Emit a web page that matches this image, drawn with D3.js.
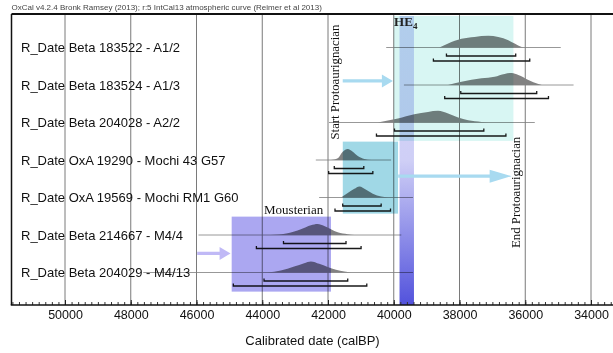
<!DOCTYPE html>
<html>
<head>
<meta charset="utf-8">
<script src="https://cdn.jsdelivr.net/npm/d3@7"></script>
<style>
  body { margin: 0; background: #fff; }
  svg { display: block; }
</style>
</head>
<body>
<script>
// rows, top to bottom
const rowLabels = [
  "R_Date Beta 183522 - A1/2",
  "R_Date Beta 183524 - A1/3",
  "R_Date Beta 204028 - A2/2",
  "R_Date OxA 19290 - Mochi 43 G57",
  "R_Date OxA 19569 - Mochi RM1 G60",
  "R_Date Beta 214667 - M4/4",
  "R_Date Beta 204029 - M4/13"
];

// thin line under each distribution (calBP, old -> young)
const rangeFrom = [40230, 39690, 41970, 42370, 42270, 45940, 47620];
const rangeTo   = [34920, 34530, 35710, 40080, 39415, 39770, 39415];

// 68.2% and 95.4% ranges
const sigma1From = [38397, 37962, 39977, 41809, 41552, 43354, 43946];
const sigma1To   = [36290, 35651, 37260, 40911, 40383, 41452, 41400];
const sigma2From = [38794, 38450, 40526, 41980, 41787, 44178, 44880];
const sigma2To   = [35863, 35294, 36588, 40636, 40099, 40994, 40820];

// probability densities [calBP, relative p]
const dens1 = [[38611,0],[38346,0.33],[37940,0.72],[37544,0.88],[37125,0.97],[36820,0.88],[36515,0.61],[36323,0.33],[36109,0.05],[35950,0]];
const dens2 = [[38346,0],[37940,0.28],[37330,0.56],[36933,0.69],[36628,0.92],[36414,1.0],[36210,0.83],[35905,0.42],[35600,0.08],[35498,0]];
const dens3 = [[40484,0],[39873,0.33],[39376,0.69],[38957,0.88],[38652,0.97],[38347,0.75],[38041,0.42],[37736,0.19],[37330,0.05],[37126,0]];
const dens4 = [[41910,0],[41705,0.14],[41552,0.69],[41400,0.92],[41247,0.69],[41094,0.33],[40893,0.08],[40688,0]];
const dens5 = [[41604,0],[41400,0.37],[41198,0.72],[41046,0.92],[40841,0.64],[40636,0.31],[40383,0.08],[40178,0]];
const dens6 = [[43741,0],[43231,0.14],[42825,0.48],[42520,0.81],[42316,0.92],[42114,0.75],[41910,0.48],[41705,0.22],[41400,0.06],[41198,0]];
const dens7 = [[43842,0],[43436,0.17],[43030,0.5],[42725,0.78],[42520,0.92],[42267,0.72],[42010,0.45],[41757,0.22],[41503,0.08],[41299,0]];
const densities = [dens1, dens2, dens3, dens4, dens5, dens6, dens7];

// shaded phases: [from, to] in calBP, [top, bottom] in row units
const boxNames  = ["Protoaurignacian", "Mochi", "Mousterian"];
const boxYears  = [[40000, 36360], [41550, 39870], [44930, 41910]];
const boxRows   = [[-0.84, 2.49], [2.51, 4.43], [4.51, 6.51]];
const boxColors = ["#d8f6f3", "#a0d8e6", "#aba7f1"];

const he4Years = [39824, 39385];

// arrows: [from, to] calBP, row position
const arrowYears = [[41552, 40026], [39865, 36414], [45979, 44963]];
const arrowRows  = [0.89, 3.43, 5.49];
const arrowColors = ["#a8daf0", "#a8daf0", "#c0b9f6"];

const tickValues = d3.range(50000, 33999, -2000);
const minorTicks = d3.range(51600, 33299, -200);

const width = 613, height = 353;
const frameLeft = 11.5, frameTop = 14, axisY = 305;

const x = d3.scaleLinear().domain([50000, 34000]).range([65, 591]);
const row = d3.scaleLinear().domain([0, 6]).range([47.5, 272.5]);
const p = d3.scaleLinear().domain([0, 1]).range([0, 12]);

const svg = d3.select("body").append("svg")
    .attr("width", width).attr("height", height);

const defs = svg.append("defs");
const grad = defs.append("linearGradient").attr("id", "he4")
    .attr("x1", 0).attr("y1", 0).attr("x2", 0).attr("y2", 1);
grad.append("stop").attr("offset", "0%").attr("stop-color", "#d2d6f8");
grad.append("stop").attr("offset", "50%").attr("stop-color", "#cfcff6");
grad.append("stop").attr("offset", "100%").attr("stop-color", "#5252dc");

// header
svg.append("text")
    .attr("x", frameLeft).attr("y", 10)
    .attr("font-family", "Liberation Sans, Arial, sans-serif")
    .attr("font-size", 8)
    .attr("fill", "#444")
    .text("OxCal v4.2.4 Bronk Ramsey (2013); r:5 IntCal13 atmospheric curve (Reimer et al 2013)");

// grid
svg.append("g").selectAll("line")
    .data(tickValues)
    .join("line")
    .attr("x1", d => x(d)).attr("x2", d => x(d))
    .attr("y1", frameTop).attr("y2", axisY)
    .attr("stroke", "#7a7a7a").attr("stroke-width", 1);

// thin range lines
svg.append("g").selectAll("line")
    .data(rowLabels)
    .join("line")
    .attr("x1", (d, i) => x(rangeFrom[i])).attr("x2", (d, i) => x(rangeTo[i]))
    .attr("y1", (d, i) => row(i)).attr("y2", (d, i) => row(i))
    .attr("stroke", "#7d7d7d").attr("stroke-width", 0.8);

// distributions
const area = d3.area()
    .x(d => x(d[0]))
    .y0(0)
    .y1(d => -p(d[1]))
    .curve(d3.curveMonotoneX);

svg.append("g").selectAll("path")
    .data(densities)
    .join("path")
    .attr("transform", (d, i) => `translate(0,${row(i)})`)
    .attr("d", area)
    .attr("fill", "#828282");

// range brackets
function bracket(g, from, to, off) {
  g.selectAll(null)
    .data(rowLabels)
    .join("path")
    .attr("d", (d, i) => {
      const y = row(i) + off, a = x(from[i]), b = x(to[i]);
      return `M${a},${y - 2.5}V${y}H${b}V${y - 2.5}`;
    })
    .attr("fill", "none").attr("stroke", "#1a1a1a").attr("stroke-width", 1.3);
}
const brackets = svg.append("g");
bracket(brackets, sigma1From, sigma1To, 8.5);
bracket(brackets, sigma2From, sigma2To, 13.5);

// phase boxes
svg.append("g").selectAll("rect")
    .data(boxNames)
    .join("rect")
    .attr("x", (d, i) => x(boxYears[i][0]))
    .attr("width", (d, i) => x(boxYears[i][1]) - x(boxYears[i][0]))
    .attr("y", (d, i) => row(boxRows[i][0]))
    .attr("height", (d, i) => row(boxRows[i][1]) - row(boxRows[i][0]))
    .attr("fill", (d, i) => boxColors[i])
    .style("mix-blend-mode", "multiply");

// HE4 band
svg.append("rect")
    .attr("x", x(he4Years[0]))
    .attr("width", x(he4Years[1]) - x(he4Years[0]))
    .attr("y", row(-0.84))
    .attr("height", axisY - row(-0.84))
    .attr("fill", "url(#he4)")
    .style("mix-blend-mode", "multiply");

// arrows
svg.append("g").selectAll("path")
    .data(arrowRows)
    .join("path")
    .attr("d", (d, i) => {
      const a = x(arrowYears[i][0]), b = x(arrowYears[i][1]), y = row(d);
      const head = i === 1 ? 22 : 11;
      return `M${a},${y - 1.7}H${b - head}V${y - 6.5}L${b},${y}L${b - head},${y + 6.5}V${y + 1.7}H${a}Z`;
    })
    .attr("fill", (d, i) => arrowColors[i]);

// row labels
svg.append("g").selectAll("text")
    .data(rowLabels)
    .join("text")
    .attr("x", 21)
    .attr("y", (d, i) => row(i))
    .attr("dy", "0.35em")
    .attr("font-family", "Liberation Sans, Arial, sans-serif")
    .attr("font-size", 13)
    .attr("fill", "#111")
    .text(d => d);

// annotations
const serif = "Liberation Serif, Times New Roman, serif";
const he = svg.append("text")
    .attr("x", x(39990)).attr("y", 26)
    .attr("font-family", serif).attr("font-size", 13).attr("font-weight", "bold")
    .attr("fill", "#222");
he.append("tspan").text("HE");
he.append("tspan").attr("font-size", 9).attr("dy", 3).text("4");

svg.append("text")
    .attr("transform", `translate(${x(41655)},139.5) rotate(-90)`)
    .attr("font-family", serif).attr("font-size", 12.8).attr("fill", "#111")
    .text("Start Protoaurignacian");

svg.append("text")
    .attr("transform", `translate(${x(36150)},248) rotate(-90)`)
    .attr("font-family", serif).attr("font-size", 12.8).attr("fill", "#111")
    .text("End Protoaurignacian");

svg.append("text")
    .attr("x", x(43946)).attr("y", 214)
    .attr("font-family", serif).attr("font-size", 13).attr("fill", "#111")
    .text("Mousterian");

// frame
svg.append("line")
    .attr("x1", frameLeft).attr("x2", width)
    .attr("y1", frameTop).attr("y2", frameTop)
    .attr("stroke", "#111").attr("stroke-width", 2);
svg.append("line")
    .attr("x1", frameLeft).attr("x2", frameLeft)
    .attr("y1", frameTop).attr("y2", axisY)
    .attr("stroke", "#111").attr("stroke-width", 1.5);

// axis
const axisG = svg.append("g").attr("transform", `translate(0,${axisY})`);
axisG.call(d3.axisBottom(x).tickValues(minorTicks).tickSize(-3).tickFormat(""))
  .call(g => g.select(".domain").remove())
  .call(g => g.selectAll(".tick line").attr("stroke", "#333"));
axisG.append("g")
  .call(d3.axisBottom(x).tickValues(tickValues).tickSize(-5).tickPadding(5).tickFormat(d3.format("d")))
  .call(g => g.select(".domain").remove())
  .call(g => g.selectAll(".tick line").attr("stroke", "#222"))
  .call(g => g.selectAll("text")
      .attr("font-family", "Liberation Sans, Arial, sans-serif")
      .attr("font-size", 12.5).attr("fill", "#111"));
axisG.append("line")
    .attr("x1", frameLeft - 0.75).attr("x2", width)
    .attr("stroke", "#111").attr("stroke-width", 1.5);

svg.append("text")
    .attr("x", 312.5).attr("y", 345)
    .attr("text-anchor", "middle")
    .attr("font-family", "Liberation Sans, Arial, sans-serif")
    .attr("font-size", 13).attr("fill", "#111")
    .text("Calibrated date (calBP)");
</script>
</body>
</html>
